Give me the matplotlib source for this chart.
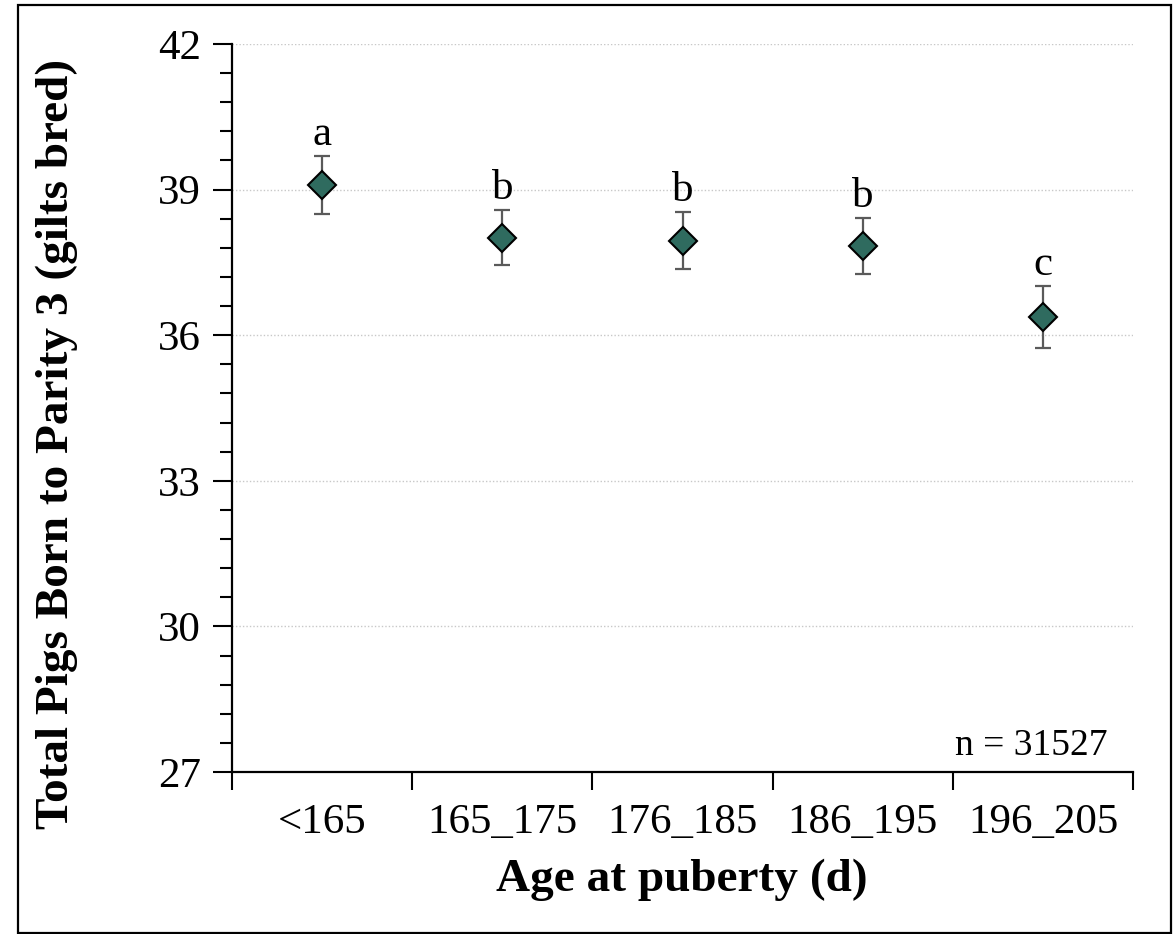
import matplotlib
matplotlib.use("Agg")
import matplotlib.pyplot as plt
from matplotlib.ticker import MultipleLocator, FixedLocator, NullFormatter
from matplotlib.patches import Rectangle

categories = ["<165", "165_175", "176_185", "186_195", "196_205"]
means = [39.09, 38.01, 37.95, 37.84, 36.38]
errors = [0.60, 0.57, 0.58, 0.58, 0.635]
letters = ["a", "b", "b", "b", "c"]
y_ticks = [27, 30, 33, 36, 39, 42]
n_text = "n = 31527"

plt.rcParams['font.family'] = ['Liberation Serif', 'DejaVu Serif']

fig = plt.figure(figsize=(11.75, 9.34), dpi=100)
ax = fig.add_axes([232/1175, 1-772/934, (1133-232)/1175, (772-44)/934])

x = list(range(len(categories)))
ax.errorbar(x, means, yerr=errors, fmt='none', ecolor='#5a5a5a',
            elinewidth=1.6, capsize=5.5, capthick=1.6, zorder=3)
ax.plot(x, means, linestyle='none', marker='D', markersize=14,
        markerfacecolor='#2f6b5f', markeredgecolor='black',
        markeredgewidth=1.5, zorder=4)

for xi, m, e, lab in zip(x, means, errors, letters):
    ax.annotate(lab, (xi, m + e), xytext=(0, 8), textcoords='offset points',
                ha='center', va='baseline', fontsize=31)

ax.set_xlim(-0.5, len(categories) - 0.5)
ax.set_ylim(27, 42)
ax.set_yticks(y_ticks)
ax.yaxis.set_minor_locator(MultipleLocator(0.6))
ax.set_yticklabels([str(t) for t in y_ticks], fontsize=31)

ax.xaxis.set_major_locator(FixedLocator([i - 0.5 for i in range(len(categories) + 1)]))
ax.xaxis.set_major_formatter(NullFormatter())
ax.xaxis.set_minor_locator(FixedLocator(x))
ax.set_xticklabels(categories, minor=True, fontsize=31)

ax.tick_params(axis='y', which='major', direction='out', length=13.5, width=1.5, pad=9)
ax.tick_params(axis='y', which='minor', direction='out', length=8.5, width=1.5)
ax.tick_params(axis='x', which='major', direction='out', length=13, width=1.5)
ax.tick_params(axis='x', which='minor', length=0, pad=23)

for s in ['top', 'right']:
    ax.spines[s].set_visible(False)
for s in ['left', 'bottom']:
    ax.spines[s].set_linewidth(1.6)

for t in y_ticks[1:]:
    ax.axhline(t, color='#c8c8c8', linestyle=(0, (1, 1.5)), linewidth=1.0, zorder=1)

ax.text(0.972, 0.023, n_text, transform=ax.transAxes, ha='right', va='baseline',
        fontsize=27)

fig.text(682/1175, 1-880/934, "Age at puberty (d)", ha='center', va='center',
         fontsize=34, fontweight='bold')
fig.text(57/1175, 1-444/934, "Total Pigs Born to Parity 3 (gilts bred)",
         ha='center', va='center', rotation=90, fontsize=34, fontweight='bold')

fig.patches.append(Rectangle((18/1175, 1/934), (1171-18)/1175, (933-5)/934,
                             transform=fig.transFigure, fill=False,
                             edgecolor='black', linewidth=1.6))

fig.savefig("out.png", dpi=100)
